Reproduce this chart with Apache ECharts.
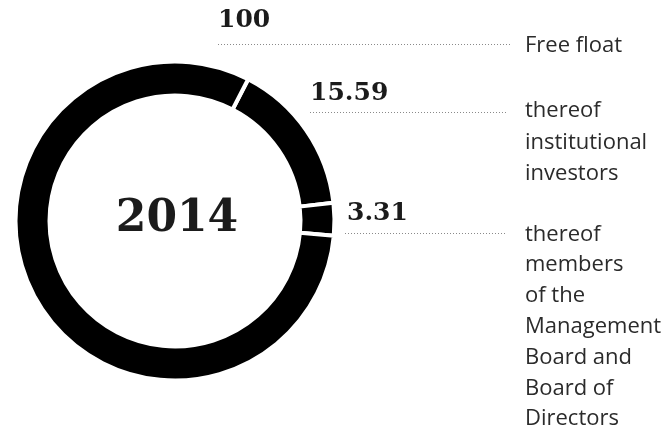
<!DOCTYPE html>
<html>
<head>
<meta charset="utf-8">
<script src="https://cdn.jsdelivr.net/npm/echarts@6/dist/echarts.min.js"></script>
<style>
  html, body { margin: 0; padding: 0; background: #fff; }
  #chart { width: 669px; height: 430px; }
</style>
</head>
<body>
<div id="chart"></div>
<script>
// Shareholder structure, in percent of shares
const year = '2014';
const freeFloat = 100;
const sliceNames = ['thereof institutional investors', 'thereof members of the Management Board and Board of Directors'];
const sliceValues = [15.59, 3.31];
const legendLabels = [
  'Free float',
  'thereof\ninstitutional\ninvestors',
  'thereof\nmembers\nof the\nManagement\nBoard and\nBoard of\nDirectors'
];
const valueLabels = ['100', '15.59', '3.31'];

const restValue = +(freeFloat - sliceValues[0] - sliceValues[1]).toFixed(2);

const chart = echarts.init(document.getElementById('chart'), null, { renderer: 'canvas' });

const numFont = { fontFamily: 'DejaVu Serif', fontWeight: 'bold', fontSize: 25, fill: '#1b1b1b' };
const txtFont = { fontFamily: 'Open Sans', fontSize: 22, fill: '#2b2b2b' };

function dotted(x1, x2, y) {
  return {
    type: 'line', silent: true,
    shape: { x1: x1, y1: y + 0.5, x2: x2, y2: y + 0.5 },
    style: { stroke: '#8a8a8a', lineWidth: 1, lineDash: [1, 2] }
  };
}
function numText(str, x, y) {
  return {
    type: 'text', silent: true, x: x, y: y,
    style: Object.assign({ text: str, verticalAlign: 'bottom', align: 'left' }, numFont)
  };
}
function sideText(str, x, y, lh) {
  return {
    type: 'text', silent: true, x: x, y: y,
    style: Object.assign({ text: str, verticalAlign: 'top', align: 'left', lineHeight: lh }, txtFont)
  };
}

chart.setOption({
  animation: false,
  backgroundColor: '#ffffff',
  series: [{
    type: 'pie',
    center: [175, 221],
    radius: [125.5, 159.5],
    startAngle: 62.7,
    clockwise: true,
    silent: true,
    label: { show: false },
    labelLine: { show: false },
    itemStyle: { color: '#000000', borderColor: '#ffffff', borderWidth: 4 },
    emphasis: { disabled: true },
    data: [
      { name: sliceNames[0], value: sliceValues[0] },
      { name: sliceNames[1], value: sliceValues[1] },
      { name: 'other free float', value: restValue }
    ]
  }],
  graphic: [
    {
      type: 'text', silent: true, x: 177, y: 220,
      style: { text: year, align: 'center', verticalAlign: 'middle',
               fontFamily: 'DejaVu Serif', fontWeight: 'bold', fontSize: 44, fill: '#1b1b1b' }
    },
    numText(valueLabels[0], 218, 33),
    numText(valueLabels[1], 310, 106),
    numText(valueLabels[2], 347, 226),
    dotted(218, 512, 44),
    dotted(310, 508, 112),
    dotted(345, 506, 233),
    sideText(legendLabels[0], 525, 30, 31.5),
    sideText(legendLabels[1], 525, 95, 31.5),
    sideText(legendLabels[2], 525, 219, 30.8)
  ]
});
</script>
</body>
</html>
